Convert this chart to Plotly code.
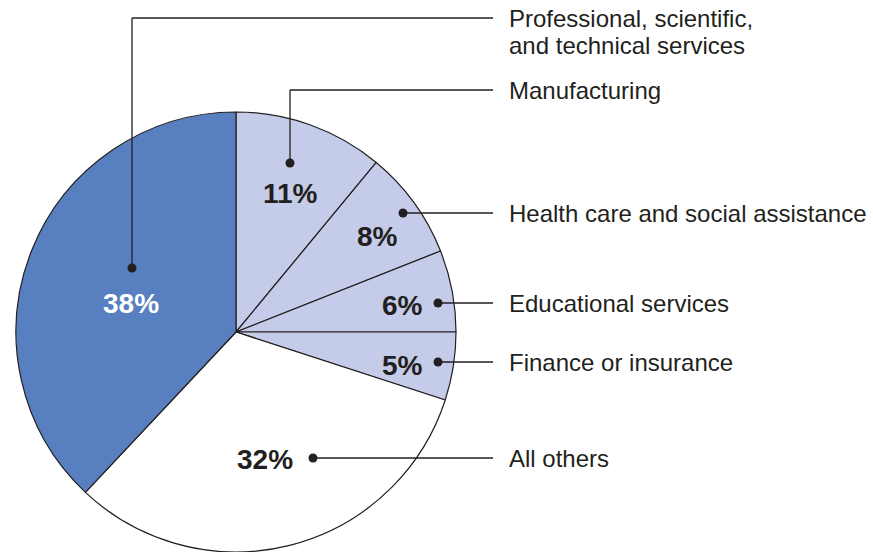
import plotly.graph_objects as go

W, H = 873, 552

# ---- data ----
categories = [
    "Manufacturing",
    "Health care and social assistance",
    "Educational services",
    "Finance or insurance",
    "All others",
    "Professional, scientific,\nand technical services",
]
shares = [11, 8, 6, 5, 32, 38]

# ---- styling ----
slice_colors = ["#c4cce9", "#c4cce9", "#c4cce9", "#c4cce9", "#ffffff", "#587fc0"]
pct_colors = ["#231f20", "#231f20", "#231f20", "#231f20", "#231f20", "#ffffff"]
ink = "#231f20"
FONT = "Liberation Sans, Arial, Helvetica, sans-serif"

# pixel layout of labels (position only)
pct_pos = [(290, 193), (377, 236), (402, 305), (402, 365), (265, 459), (131, 303)]
dot_pos = [(290, 163), (403, 213), (438, 303), (438, 362), (313, 458), (132, 268)]
leader_y = [90, 213, 303, 362, 458, 18]   # y where horizontal leader runs
line_end_x = 493
label_x = 507
line_gap = 27

cx, cy, R = 236, 332, 220


def px(x):
    return x / W


def py(y):
    return 1 - y / H


fig = go.Figure()
fig.add_trace(go.Pie(
    labels=categories,
    values=shares,
    sort=False,
    direction="clockwise",
    rotation=0,
    textinfo="none",
    hoverinfo="label+percent",
    marker=dict(colors=slice_colors, line=dict(color=ink, width=1.2)),
    domain=dict(x=[px(cx - R), px(cx + R)], y=[py(cy + R), py(cy - R)]),
    showlegend=False,
))

shapes = []
annotations = []
for cat, val, (tx, ty), (dx, dy), ly, pc in zip(
        categories, shares, pct_pos, dot_pos, leader_y, pct_colors):
    # leader line
    if abs(ly - dy) > 1:
        shapes.append(dict(type="line", xref="paper", yref="paper",
                           x0=px(dx), y0=py(dy), x1=px(dx), y1=py(ly),
                           line=dict(color=ink, width=1.3), layer="above"))
    shapes.append(dict(type="line", xref="paper", yref="paper",
                       x0=px(dx), y0=py(ly), x1=px(line_end_x), y1=py(ly),
                       line=dict(color=ink, width=1.3), layer="above"))
    # dot
    shapes.append(dict(type="circle", xref="paper", yref="paper",
                       xsizemode="pixel", ysizemode="pixel",
                       xanchor=px(dx), yanchor=py(dy),
                       x0=-4.5, x1=4.5, y0=-4.5, y1=4.5,
                       fillcolor=ink, line=dict(color=ink, width=0), layer="above"))
    # percent text
    annotations.append(dict(x=px(tx), y=py(ty), xref="paper", yref="paper",
                            text=f"<b>{val}%</b>", showarrow=False,
                            xanchor="center", yanchor="middle",
                            font=dict(family=FONT, size=28, color=pc)))
    # category label lines
    for i, line in enumerate(cat.split("\n")):
        annotations.append(dict(x=px(label_x), y=py(ly + i * line_gap),
                                xref="paper", yref="paper",
                                text=line, showarrow=False,
                                xanchor="left", yanchor="middle",
                                font=dict(family=FONT, size=24, color=ink)))

fig.update_layout(
    width=W, height=H,
    margin=dict(l=0, r=0, t=0, b=0),
    paper_bgcolor="white",
    plot_bgcolor="white",
    shapes=shapes,
    annotations=annotations,
)

fig.write_html(
    "out.html",
    config={"displayModeBar": False},
    post_script="document.body.style.margin='0';document.body.style.overflow='hidden';",
)
